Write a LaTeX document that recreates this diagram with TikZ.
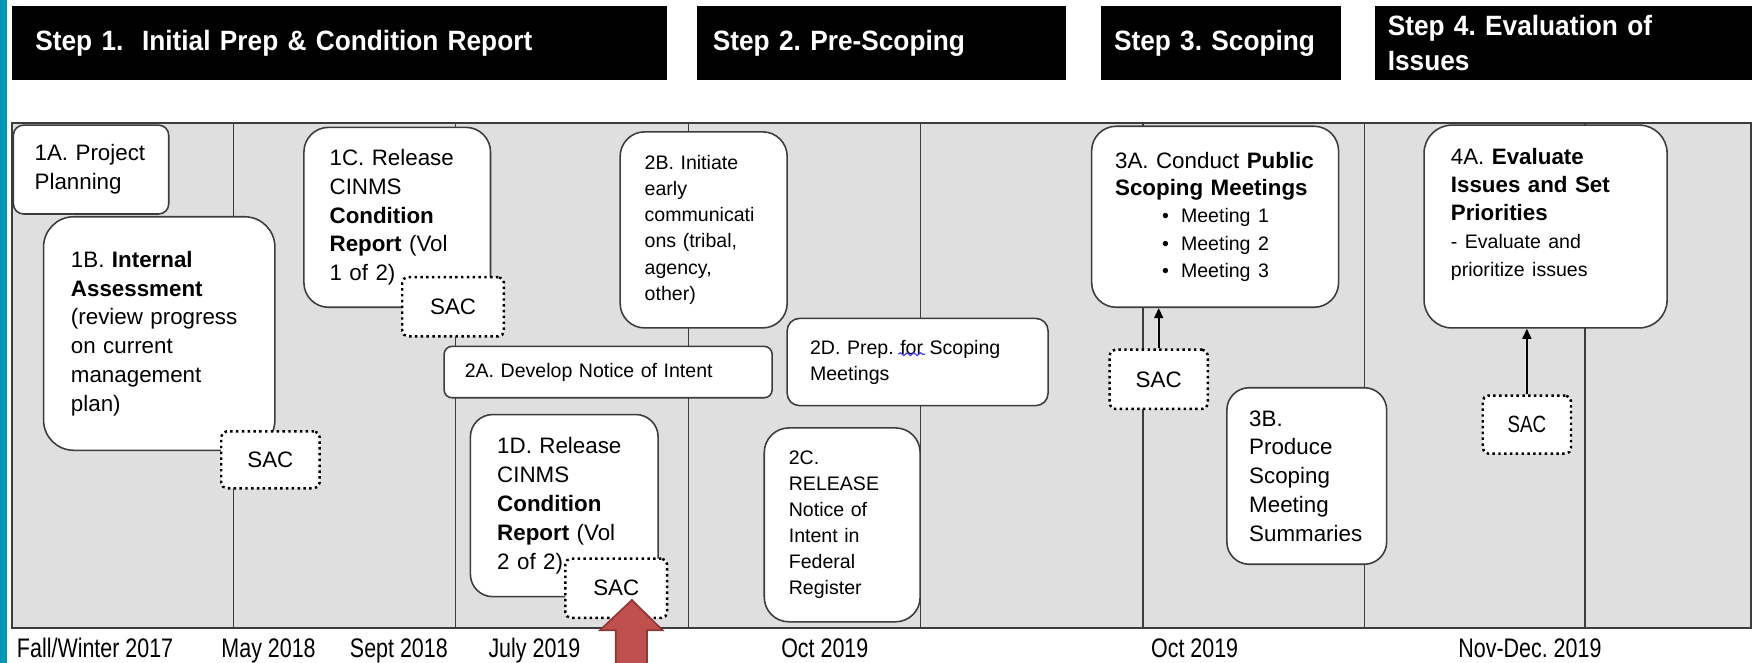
\documentclass[tikz,border=0pt]{standalone}
\usepackage{fontspec}
\setmainfont{Liberation Sans}
\newfontfamily\narrowfont[FakeStretch=0.8]{Liberation Sans}
\newfontfamily\headfont[FakeStretch=0.94]{Liberation Sans}
\usepackage{tikz}
\usetikzlibrary{arrows.meta, decorations.pathmorphing}
\definecolor{panelgrey}{RGB}{223,223,223}
\definecolor{sideteal}{RGB}{0,150,183}
\definecolor{boxline}{RGB}{60,60,60}
\definecolor{pointred}{RGB}{192,80,77}
\definecolor{pointedge}{RGB}{140,56,54}
\definecolor{spellblue}{RGB}{60,60,230}
\frenchspacing

\begin{document}
\begin{tikzpicture}[
    x=1pt, y=-1pt,
    head/.style={rectangle, fill=black, text=white, minimum height=66.2pt, align=left, inner ysep=0pt, font=\headfont\bfseries\fontsize{25}{31}\selectfont},
    task/.style={rectangle, draw=boxline, line width=1.4pt, fill=white, align=left, inner xsep=22pt, inner ysep=0pt, font=\fontsize{20}{25.8}\selectfont},
    small/.style={font=\fontsize{17.5}{23.3}\selectfont},
    sac/.style={rectangle, draw=black, line width=2.2pt, dash pattern=on 2.2pt off 3pt, fill=white, rounded corners=5pt, inner sep=0pt, font=\fontsize{20}{24}\selectfont},
    date/.style={anchor=base west, inner sep=0pt, font=\narrowfont\fontsize{24}{28}\selectfont},
    arrow/.style={-{Triangle[length=9pt, width=8pt]}, line width=1.5pt, black}
]
\useasboundingbox (0,0) rectangle (1568,593);
\fill[sideteal] (0,0) rectangle (6.5,593);

\node[head, minimum width=586pt, text width=544pt, inner xsep=21pt] (step1) at (303.6,38.5) {Step 1.~~Initial Prep \& Condition Report};
\node[head, minimum width=330pt, text width=302pt, inner xsep=14pt] (step2) at (789,38.5) {Step 2. Pre-Scoping};
\node[head, minimum width=215pt, text width=191pt, inner xsep=12pt] (step3) at (1092.5,38.5) {Step 3. Scoping};
\node[head, minimum width=337pt, text width=315pt, inner xsep=11pt] (step4) at (1399.5,38.5) {Step 4. Evaluation of\\Issues};

\draw[fill=panelgrey, draw=boxline, line width=1.5pt] (11,110) rectangle (1567,562);
\foreach \x in {209,407.5,616,824,1023,1221,1418.5}
    \draw[line width=1.2pt, boxline] (\x,110) -- (\x,562);

\node[task, minimum width=139pt, minimum height=79.5pt, text width=101pt, inner xsep=19pt, rounded corners=9pt] (t1a) at (81.5,151.75) {1A. Project\\Planning};
\node[task, minimum width=207pt, minimum height=209pt, text width=158pt, inner xsep=24.5pt, rounded corners=27pt] (t1b) at (142.5,298.5) {1B. \textbf{Internal}\\\textbf{Assessment}\\(review progress\\on current\\management\\plan)};
\node[task, minimum width=167pt, minimum height=161pt, text width=121pt, inner xsep=23pt, rounded corners=22pt] (t1c) at (355.5,194.5) {1C. Release\\CINMS\\\textbf{Condition}\\\textbf{Report} (Vol\\1 of 2)};
\node[task, minimum width=168pt, minimum height=163pt, text width=120pt, inner xsep=24pt, rounded corners=20pt] (t1d) at (505,452.5) {1D. Release\\CINMS\\\textbf{Condition}\\\textbf{Report} (Vol\\2 of 2)};
\node[task, small, minimum width=293.5pt, minimum height=46pt, text width=256.5pt, inner xsep=18.5pt, rounded corners=7pt] (t2a) at (544.25,333) {2A. Develop Notice of Intent};
\node[task, small, minimum width=149.5pt, minimum height=175.5pt, text width=105.5pt, rounded corners=22pt] (t2b) at (629.75,205.75) {2B. Initiate\\early\\communicati\\ons (tribal,\\agency,\\other)};
\node[task, small, minimum width=139.5pt, minimum height=173.5pt, text width=95.5pt, rounded corners=22pt] (t2c) at (753.75,469.75) {2C.\\RELEASE\\Notice of\\Intent in\\Federal\\Register};
\node[task, small, minimum width=233.5pt, minimum height=78pt, text width=192.5pt, inner xsep=20.5pt, rounded corners=11pt] (t2d) at (821.25,324) {2D. Prep. for Scoping\\Meetings};
\node[task, minimum width=221pt, minimum height=162pt, text width=179pt, inner xsep=21pt, rounded corners=22pt, font=\fontsize{20}{24.5}\selectfont] (t3a) at (1087.5,194) {3A. Conduct \textbf{Public}\\\textbf{Scoping Meetings}\\{\fontsize{17.5}{24.5}\selectfont\hspace*{42pt}\makebox[17pt][l]{\textbullet}Meeting 1\\\hspace*{42pt}\makebox[17pt][l]{\textbullet}Meeting 2\\\hspace*{42pt}\makebox[17pt][l]{\textbullet}Meeting 3}};
\node[task, minimum width=143pt, minimum height=158pt, text width=103pt, inner xsep=20pt, rounded corners=20pt] (t3b) at (1169.5,426) {3B.\\Produce\\Scoping\\Meeting\\Summaries};
\node[task, minimum width=217.5pt, minimum height=181.5pt, text width=169.5pt, inner xsep=24pt, rounded corners=25pt, font=\fontsize{20}{25}\selectfont] (t4a) at (1383.25,202.75) {4A. \textbf{Evaluate}\\\textbf{Issues and Set}\\\textbf{Priorities}\\{\fontsize{17.5}{25}\selectfont - Evaluate and\\prioritize issues}\\[0pt]\mbox{}};

\node[sac, minimum width=88pt, minimum height=51pt] (sac1b) at (242,411.5) {SAC};
\node[sac, minimum width=91pt, minimum height=53pt] (sac1c) at (405.5,274.5) {SAC};
\node[sac, minimum width=91pt, minimum height=53pt] (sac1d) at (551.5,526.5) {SAC};
\node[sac, minimum width=88pt, minimum height=53pt] (sac3a) at (1037,339.5) {SAC};
\node[sac, minimum width=79pt, minimum height=52pt, font=\narrowfont\fontsize{21}{24}\selectfont] (sac4a) at (1366.5,380) {SAC};

\draw[arrow] (sac3a) -- (sac3a |- t3a.south);
\draw[arrow] (sac4a) -- (sac4a |- t4a.south);

\draw[spellblue, line width=1pt, decorate, decoration={snake, amplitude=1.3pt, segment length=6pt}] (804,317) -- (828,317);

\filldraw[fill=pointred, draw=pointedge, line width=1.5pt] (551,600) -- (551,564) -- (537,564) -- (565.5,537) -- (593,564) -- (579,564) -- (579,600) -- cycle;

\node[date] (d1) at (15,588) {Fall/Winter 2017};
\node[date] (d2) at (198,588) {May 2018};
\node[date] (d3) at (313,588) {Sept 2018};
\node[date] (d4) at (437,588) {July 2019};
\node[date] (d5) at (699,588) {Oct 2019};
\node[date] (d6) at (1030,588) {Oct 2019};
\node[date] (d7) at (1305,588) {Nov-Dec. 2019};

\end{tikzpicture}
\end{document}
